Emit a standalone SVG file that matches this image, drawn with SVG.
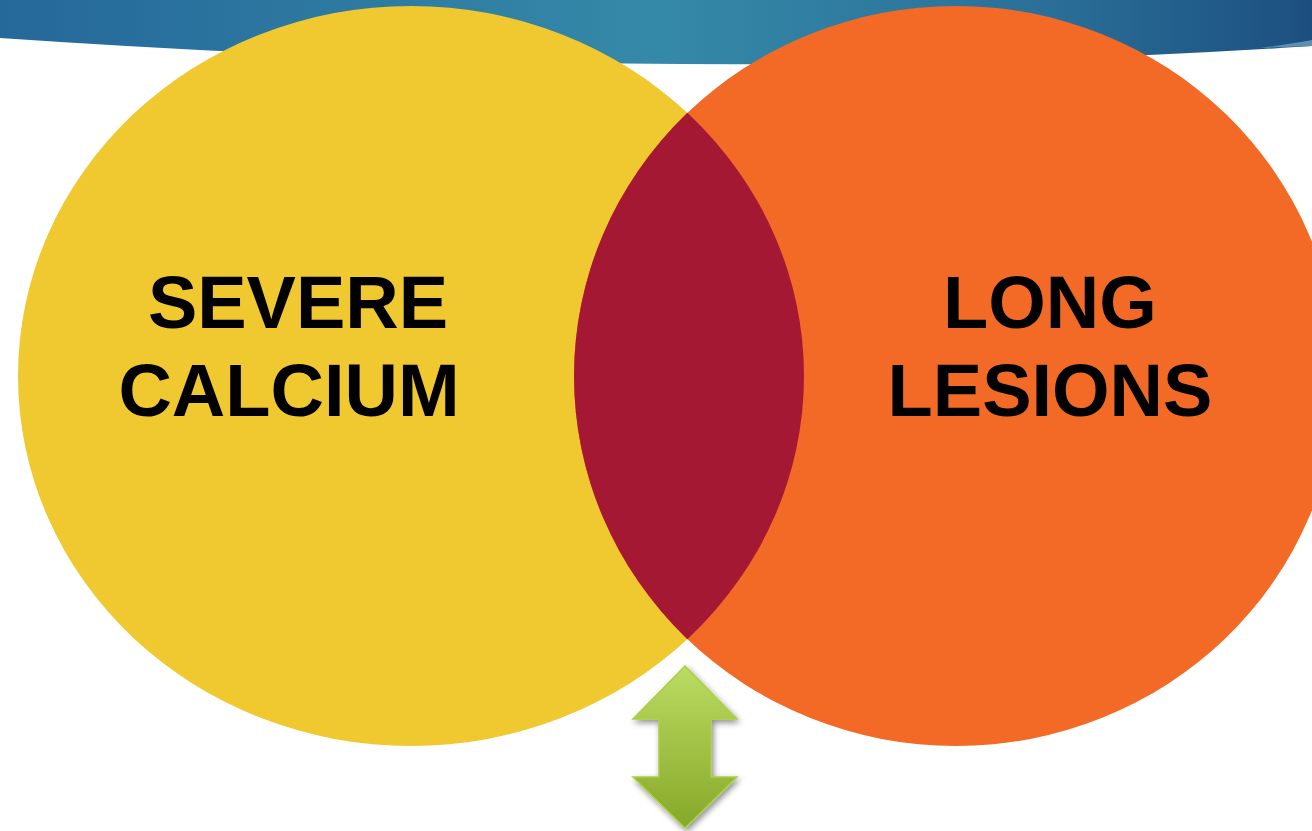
<svg xmlns="http://www.w3.org/2000/svg" width="1312" height="831" viewBox="0 0 1312 831">
<style>
.lbl{font-family:"Liberation Sans",Arial,sans-serif;font-weight:bold;font-size:74px;fill:#000;text-anchor:middle}
</style>
<defs>
<linearGradient id="banner" x1="0" y1="0" x2="1" y2="0">
<stop offset="0" stop-color="#25689a"/>
<stop offset="0.5" stop-color="#3589a8"/>
<stop offset="0.8" stop-color="#2a6f98"/>
<stop offset="1" stop-color="#1c4f80"/>
</linearGradient>
<linearGradient id="arrowG" x1="0" y1="0" x2="0" y2="1">
<stop offset="0" stop-color="#bcdb62"/>
<stop offset="1" stop-color="#86a828"/>
</linearGradient>
<clipPath id="clipY"><ellipse cx="411" cy="376" rx="393" ry="370"/></clipPath>
<filter id="sh" x="-30%" y="-30%" width="160%" height="160%">
<feGaussianBlur in="SourceAlpha" stdDeviation="3"/>
<feOffset dx="2" dy="3"/>
<feComponentTransfer><feFuncA type="linear" slope="0.45"/></feComponentTransfer>
<feMerge><feMergeNode/><feMergeNode in="SourceGraphic"/></feMerge>
</filter>
</defs>
<rect width="1312" height="831" fill="#ffffff"/>
<path d="M0,0 H1312 V46 Q700 86 0 38 Z" fill="url(#banner)"/>
<path d="M1260,48 Q1290,44 1312,40 V46 Z" fill="#5f8fb3"/>
<g id="severe-calcium">
<ellipse cx="411" cy="376" rx="393" ry="370" fill="#F0C830"/>
</g>
<g id="long-lesions">
<ellipse cx="956" cy="376" rx="382" ry="370" fill="#F26A25"/>
</g>
<g id="overlap">
<ellipse cx="956" cy="376" rx="382" ry="370" fill="#A51834" clip-path="url(#clipY)"/>
</g>
<g id="labels">
<text class="lbl" x="298" y="328">SEVERE</text>
<text class="lbl" x="289" y="416">CALCIUM</text>
<text class="lbl" x="1050" y="328">LONG</text>
<text class="lbl" x="1050" y="416">LESIONS</text>
</g>
<g id="connectors">
<path d="M685,666 L737,719 H711 V777 H737 L685,828 L633,777 H659 V719 H633 Z" fill="url(#arrowG)" stroke="#a9d040" stroke-width="1.5" filter="url(#sh)"/>
</g>
</svg>
